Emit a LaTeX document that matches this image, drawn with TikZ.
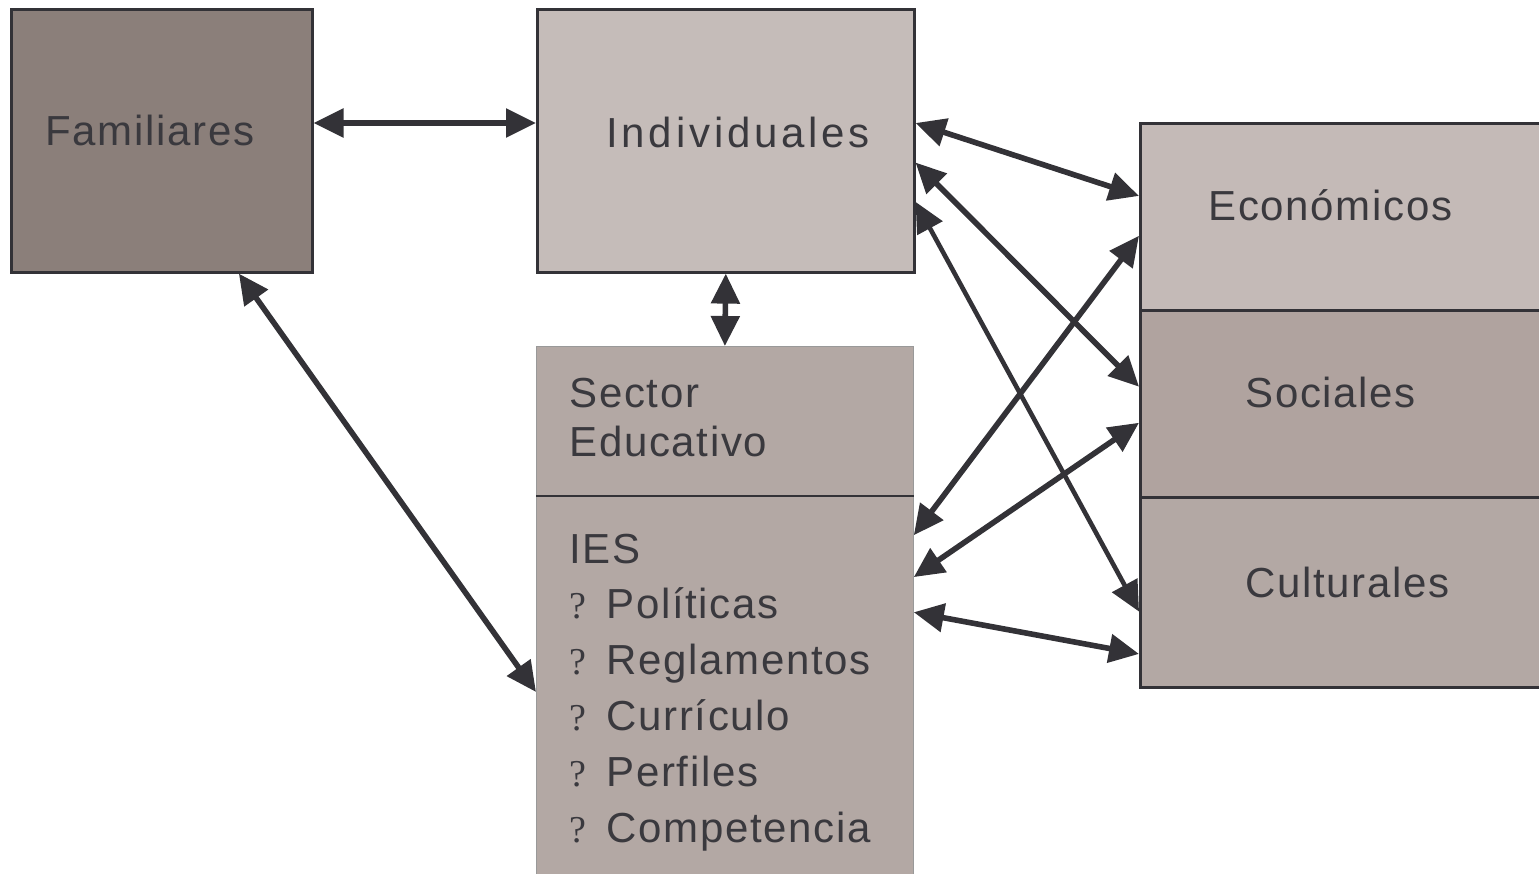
\documentclass[tikz,border=0pt]{standalone}
\usepackage{fontspec}
\setmainfont[LetterSpace=4]{Liberation Sans}
\newfontfamily\qfont{Liberation Serif}
\usetikzlibrary{positioning,calc,arrows.meta}

\definecolor{lineclr}{HTML}{333237}
\definecolor{txtclr}{HTML}{3A393E}
\definecolor{famfill}{HTML}{8B7F7A}
\definecolor{indfill}{HTML}{C5BCB9}
\definecolor{ecofill}{HTML}{C4BAB7}
\definecolor{socfill}{HTML}{B0A39F}
\definecolor{secfill}{HTML}{B3A8A4}

\begin{document}
\begin{tikzpicture}[x=0.5pt, y=-0.5pt, >={Triangle[length=15pt,width=14pt]},
    box/.style={draw=lineclr, line width=1.3pt, inner sep=0pt, anchor=north west},
    edbox/.style={draw=gray!80, line width=0.4pt, fill=secfill, inner sep=0pt, anchor=north west},
    lbl/.style={anchor=base west, inner sep=0pt, text=txtclr, font=\fontsize{21}{25}\selectfont},
    qmark/.style={anchor=base west, inner sep=0pt, text=txtclr, font=\qfont\fontsize{19}{21}\selectfont},
    link/.style={<->, line width=2.8pt, draw=lineclr}]
    \useasboundingbox (0,0) rectangle (1539,874);
    \clip (0,0) rectangle (1539,874);
    % boxes
    \node[box, fill=famfill, minimum width=150.5pt, minimum height=131.5pt] (fam) at (10,8) {};
    \node[box, fill=indfill, minimum width=188.5pt, minimum height=131.5pt] (indiv) at (536,8) {};
    \node[edbox, minimum width=188.5pt, minimum height=74.5pt] (sect) at (536,346) {};
    \node[edbox, minimum width=188.5pt, minimum height=195pt] (ies) at (536,495) {};
    \draw[lineclr, line width=1.3pt] (sect.south west) -- (sect.south east);
    \node[box, fill=ecofill, minimum width=205pt, minimum height=93.5pt] (eco) at (1139,122) {};
    \node[box, fill=socfill, minimum width=205pt, minimum height=93.5pt] (soc) at (1139,309) {};
    \node[box, fill=secfill, minimum width=205pt, minimum height=95pt] (cul) at (1139,496) {};
    % texts
    \node[lbl] (tfam) at (45,145) {Familiares};
    \node[lbl] (tind) at (606,147) {\addfontfeature{LetterSpace=9}Individuales};
    \node[lbl] (teco) at (1208,220) {Económicos};
    \node[lbl] (tsoc) at (1245,407) {Sociales};
    \node[lbl] (tcul) at (1245,597) {Culturales};
    \node[lbl] (tsec) at (569,407) {Sector};
    \node[lbl] (tedu) at (569,456) {Educativo};
    \node[lbl] (ties) at (569,563) {IES};
    \foreach \y/\w [count=\i] in {618/Políticas, 674/Reglamentos, 730/Currículo, 786/Perfiles, 842/Competencia} {
        \node[qmark] (q\i) at (569,\y) {?};
        \node[lbl] (item\i) at (606,\y) {\w};
    }
    % connectors
    \draw[link] ($(fam.north east)!0.433!(fam.south east)$) -- ($(indiv.north west)!0.433!(indiv.south west)$);
    \draw[link] (indiv.south) -- (sect.north);
    \draw[link] ($(fam.south west)!0.754!(fam.south east)$) -- ($(ies.north west)!0.504!(ies.south west)$);
    \draw[link] ($(indiv.north east)!0.433!(indiv.south east)$) -- ($(eco.north west)!0.39!(eco.south west)$);
    \draw[link] ($(indiv.north east)!0.582!(indiv.south east)$) -- ($(soc.north west)!0.41!(soc.south west)$);
    \draw[link, line width=2.3pt] ($(indiv.north east)!0.73!(indiv.south east)$) -- ($(cul.north west)!0.6!(cul.south west)$);
    \draw[link] ($(eco.north west)!0.6!(eco.south west)$) -- ($(ies.north east)!0.103!(ies.south east)$);
    \draw[link] ($(soc.north west)!0.6!(soc.south west)$) -- ($(ies.north east)!0.21!(ies.south east)$);
    \draw[link] ($(cul.north west)!0.82!(cul.south west)$) -- ($(ies.north east)!0.30!(ies.south east)$);
\end{tikzpicture}
\end{document}
